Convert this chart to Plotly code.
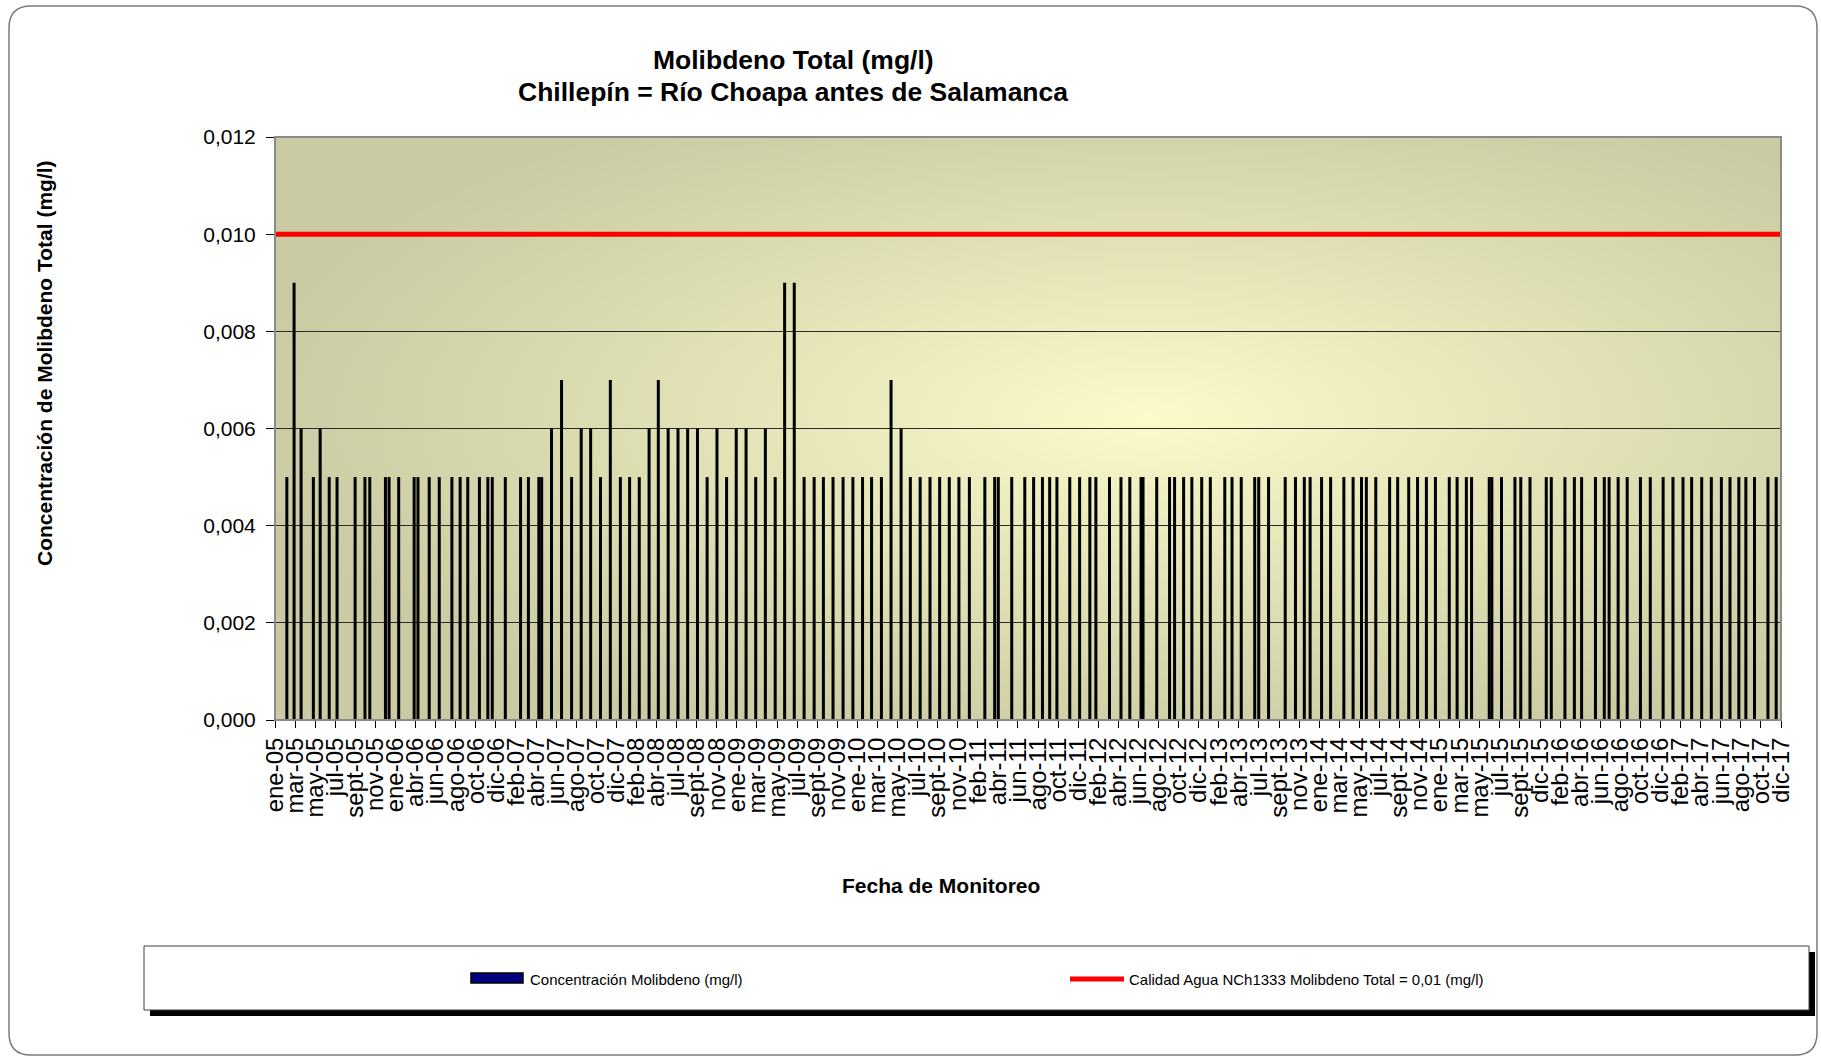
import base64
import struct
import zlib

import numpy as np
import plotly.graph_objects as go

# ---------------- data ----------------
tick_labels = [
    "ene-05", "mar-05", "may-05", "jul-05", "sept-05", "nov-05",
    "ene-06", "abr-06", "jun-06", "ago-06", "oct-06", "dic-06",
    "feb-07", "abr-07", "jun-07", "ago-07", "oct-07", "dic-07",
    "feb-08", "abr-08", "jul-08", "sept-08", "nov-08",
    "ene-09", "mar-09", "may-09", "jul-09", "sept-09", "nov-09",
    "ene-10", "mar-10", "may-10", "jul-10", "sept-10", "nov-10",
    "feb-11", "abr-11", "jun-11", "ago-11", "oct-11", "dic-11",
    "feb-12", "abr-12", "jun-12", "ago-12", "oct-12", "dic-12",
    "feb-13", "abr-13", "jul-13", "sept-13", "nov-13",
    "ene-14", "mar-14", "may-14", "jul-14", "sept-14", "nov-14",
    "ene-15", "mar-15", "may-15", "jul-15", "sept-15", "dic-15",
    "feb-16", "abr-16", "jun-16", "ago-16", "oct-16", "dic-16",
    "feb-17", "abr-17", "jun-17", "ago-17", "oct-17", "dic-17",
]

# sample position on the date axis, expressed in label intervals (0 = ene-05)
sample_pos = [
    0.59, 0.95, 1.30, 1.91, 2.25, 2.70, 3.09, 3.99, 4.48, 4.72,
    5.50, 5.68, 6.16, 6.93, 7.12, 7.68, 8.18, 8.81, 9.22, 9.60,
    10.18, 10.60, 10.82, 11.47, 12.23, 12.62, 13.14, 13.28, 13.77, 14.27,
    14.77, 15.25, 15.72, 16.21, 16.70, 17.20, 17.66, 18.14, 18.63, 19.09,
    19.58, 20.07, 20.55, 21.04, 21.52, 22.01, 22.49, 22.97, 23.46, 23.94,
    24.42, 24.91, 25.38, 25.86, 26.35, 26.85, 27.31, 27.79, 28.29, 28.78,
    29.26, 29.71, 30.20, 30.68, 31.18, 31.64, 32.13, 32.62, 33.10, 33.58,
    34.06, 34.58, 35.35, 35.84, 36.02, 36.69, 37.34, 37.78, 38.22, 38.58,
    38.94, 39.58, 40.07, 40.58, 40.88, 41.56, 42.13, 42.57, 43.13, 43.23,
    43.91, 44.55, 44.80, 45.25, 45.66, 46.15, 46.58, 47.30, 47.66, 48.12,
    48.79, 48.99, 49.48, 50.31, 50.82, 51.26, 51.55, 52.12, 52.57, 53.23,
    53.69, 54.11, 54.35, 54.82, 55.51, 55.91, 56.46, 56.90, 57.34, 57.79,
    58.48, 58.87, 59.33, 59.59, 60.47, 60.60, 61.08, 61.75, 62.04, 62.50,
    63.31, 63.56, 64.24, 64.71, 65.07, 65.76, 66.20, 66.44, 66.89, 67.34,
    68.00, 68.49, 69.13, 69.62, 70.12, 70.55, 71.05, 71.53, 72.03, 72.46,
    72.90, 73.25, 73.68, 74.35, 74.76,
]

mo_values = [
    0.005, 0.009, 0.006, 0.005, 0.006, 0.005, 0.005, 0.005, 0.005, 0.005,
    0.005, 0.005, 0.005, 0.005, 0.005, 0.005, 0.005, 0.005, 0.005, 0.005,
    0.005, 0.005, 0.005, 0.005, 0.005, 0.005, 0.005, 0.005, 0.006, 0.007,
    0.005, 0.006, 0.006, 0.005, 0.007, 0.005, 0.005, 0.005, 0.006, 0.007,
    0.006, 0.006, 0.006, 0.006, 0.005, 0.006, 0.005, 0.006, 0.006, 0.005,
    0.006, 0.005, 0.009, 0.009, 0.005, 0.005, 0.005, 0.005, 0.005, 0.005,
    0.005, 0.005, 0.005, 0.007, 0.006, 0.005, 0.005, 0.005, 0.005, 0.005,
    0.005, 0.005, 0.005, 0.005, 0.005, 0.005, 0.005, 0.005, 0.005, 0.005,
    0.005, 0.005, 0.005, 0.005, 0.005, 0.005, 0.005, 0.005, 0.005, 0.005,
    0.005, 0.005, 0.005, 0.005, 0.005, 0.005, 0.005, 0.005, 0.005, 0.005,
    0.005, 0.005, 0.005, 0.005, 0.005, 0.005, 0.005, 0.005, 0.005, 0.005,
    0.005, 0.005, 0.005, 0.005, 0.005, 0.005, 0.005, 0.005, 0.005, 0.005,
    0.005, 0.005, 0.005, 0.005, 0.005, 0.005, 0.005, 0.005, 0.005, 0.005,
    0.005, 0.005, 0.005, 0.005, 0.005, 0.005, 0.005, 0.005, 0.005, 0.005,
    0.005, 0.005, 0.005, 0.005, 0.005, 0.005, 0.005, 0.005, 0.005, 0.005,
    0.005, 0.005, 0.005, 0.005, 0.005,
]

limit_value = 0.01  # NCh1333

title_lines = ["Molibdeno Total (mg/l)", "Chillepín = Río Choapa antes de Salamanca"]
y_title = "Concentración de Molibdeno Total (mg/l)"
x_title = "Fecha de Monitoreo"
legend_labels = ["Concentración Molibdeno (mg/l)",
                 "Calidad Agua NCh1333 Molibdeno Total = 0,01 (mg/l)"]

# ---------------- layout geometry ----------------
W, H = 1821, 1058
L, R, T, B = 275, 1781, 137, 720
FONT = "Liberation Sans, Arial, sans-serif"


def px(xp):
    return (xp - L) / (R - L)


def py(yp):
    return (B - yp) / (B - T)


# ---------------- gradient background for plot area ----------------
def gradient_png(w=300, h=120):
    u = (np.arange(w) + 0.5) / w
    v = (np.arange(h) + 0.5) / h
    U, V = np.meshgrid(u, v)
    cx, cy = 0.58, 0.48
    d = np.sqrt(((U - cx) / 0.62) ** 2 + ((V - cy) / 0.62) ** 2)
    t = np.clip(d, 0, 1)
    edge = np.array([202, 203, 163], dtype=float)
    center = np.array([253, 251, 203], dtype=float)
    k = (1 - t) ** 1.1
    img = edge[None, None, :] + (center - edge)[None, None, :] * k[..., None]
    arr = np.clip(img, 0, 255).astype(np.uint8)
    raw = b"".join(b"\x00" + arr[i].tobytes() for i in range(h))

    def chunk(tag, data):
        return (struct.pack(">I", len(data)) + tag + data
                + struct.pack(">I", zlib.crc32(tag + data) & 0xFFFFFFFF))

    png = (b"\x89PNG\r\n\x1a\n"
           + chunk(b"IHDR", struct.pack(">IIBBBBB", w, h, 8, 2, 0, 0, 0))
           + chunk(b"IDAT", zlib.compress(raw, 9))
           + chunk(b"IEND", b""))
    return "data:image/png;base64," + base64.b64encode(png).decode()


# ---------------- figure ----------------
fig = go.Figure()

fig.add_trace(go.Bar(
    x=sample_pos, y=mo_values, width=0.15,
    marker=dict(color="#000000", line=dict(width=0)),
    name=legend_labels[0], showlegend=False,
))

fig.add_trace(go.Scatter(
    x=[0, len(tick_labels) - 1], y=[limit_value, limit_value],
    mode="lines", line=dict(color="#FF0000", width=5),
    name=legend_labels[1], showlegend=False,
))

fig.update_layout(
    width=W, height=H,
    margin=dict(l=L, r=W - R, t=T, b=H - B, pad=0),
    paper_bgcolor="white",
    plot_bgcolor="rgba(0,0,0,0)",
    separators=",.",
    showlegend=False,
    font=dict(family=FONT, color="black"),
    images=[dict(source=gradient_png(), xref="paper", yref="paper",
                 x=0, y=1, sizex=1, sizey=1, sizing="stretch",
                 xanchor="left", yanchor="top", layer="below")],
)

fig.update_xaxes(
    range=[0, len(tick_labels) - 1],
    tickmode="array", tickvals=list(range(len(tick_labels))), ticktext=tick_labels,
    tickangle=-90, tickfont=dict(size=24, family=FONT, color="black"),
    ticks="outside", ticklen=7, tickcolor="black", tickwidth=1,
    showgrid=False, zeroline=False,
    showline=True, linecolor="black", linewidth=1,
    automargin=False,
)
fig.update_yaxes(
    range=[0, 0.012], tick0=0, dtick=0.002, tickformat=".3f",
    tickfont=dict(size=21, family=FONT, color="black"),
    ticks="outside", ticklen=8, tickcolor="black", tickwidth=1,
    ticklabelstandoff=6,
    showgrid=True, gridcolor="#2b2b2b", gridwidth=1,
    zeroline=False, showline=True, linecolor="black", linewidth=1,
    automargin=False,
)

shapes = []
# plot area border (top/right gray)
shapes.append(dict(type="rect", xref="paper", yref="paper", x0=0, x1=1, y0=0, y1=1,
                   line=dict(color="#8a8a8a", width=2), layer="above"))

# outer rounded chart border
x0, y0, x1, y1, r = 9, 6, 1817, 1055, 22


def P(a, b):
    return f"{px(a):.6f},{py(b):.6f}"


path = (f"M {P(x0 + r, y0)} L {P(x1 - r, y0)} Q {P(x1, y0)} {P(x1, y0 + r)} "
        f"L {P(x1, y1 - r)} Q {P(x1, y1)} {P(x1 - r, y1)} "
        f"L {P(x0 + r, y1)} Q {P(x0, y1)} {P(x0, y1 - r)} "
        f"L {P(x0, y0 + r)} Q {P(x0, y0)} {P(x0 + r, y0)} Z")
shapes.append(dict(type="path", xref="paper", yref="paper", path=path,
                   line=dict(color="#7a7a7a", width=1.5), layer="below"))

# legend box with shadow
shapes.append(dict(type="rect", xref="paper", yref="paper",
                   x0=px(150), x1=px(1815), y0=py(1016), y1=py(952),
                   fillcolor="black", line=dict(width=0), layer="above"))
shapes.append(dict(type="rect", xref="paper", yref="paper",
                   x0=px(144), x1=px(1809), y0=py(1010), y1=py(946),
                   fillcolor="white", line=dict(color="#404040", width=1), layer="above"))
# legend swatches
shapes.append(dict(type="rect", xref="paper", yref="paper",
                   x0=px(471), x1=px(523), y0=py(983), y1=py(973),
                   fillcolor="#000080", line=dict(color="black", width=1.5), layer="above"))
shapes.append(dict(type="line", xref="paper", yref="paper",
                   x0=px(1070), x1=px(1124), y0=py(979), y1=py(979),
                   line=dict(color="#FF0000", width=5), layer="above"))
fig.update_layout(shapes=shapes)

annotations = [
    dict(text=f"<b>{title_lines[0]}</b>", x=px(793), y=py(60)),
    dict(text=f"<b>{title_lines[1]}</b>", x=px(793), y=py(92)),
]
for a in annotations:
    a.update(xref="paper", yref="paper", xanchor="center", yanchor="middle",
             showarrow=False, font=dict(size=26.5, family=FONT, color="black"))
annotations.append(dict(text=f"<b>{y_title}</b>", x=px(44), y=py(363), textangle=-90,
                        xref="paper", yref="paper", xanchor="center", yanchor="middle",
                        showarrow=False, font=dict(size=21, family=FONT, color="black")))
annotations.append(dict(text=f"<b>{x_title}</b>", x=px(941), y=py(885),
                        xref="paper", yref="paper", xanchor="center", yanchor="middle",
                        showarrow=False, font=dict(size=21, family=FONT, color="black")))
annotations.append(dict(text=legend_labels[0], x=px(528), y=py(979),
                        xref="paper", yref="paper", xanchor="left", yanchor="middle",
                        showarrow=False, font=dict(size=15, family=FONT, color="black")))
annotations.append(dict(text=legend_labels[1], x=px(1127), y=py(979),
                        xref="paper", yref="paper", xanchor="left", yanchor="middle",
                        showarrow=False, font=dict(size=15, family=FONT, color="black")))
fig.update_layout(annotations=annotations)

fig.write_html("out.html", config={"displayModeBar": False},
               post_script="document.body.style.margin='0';")
